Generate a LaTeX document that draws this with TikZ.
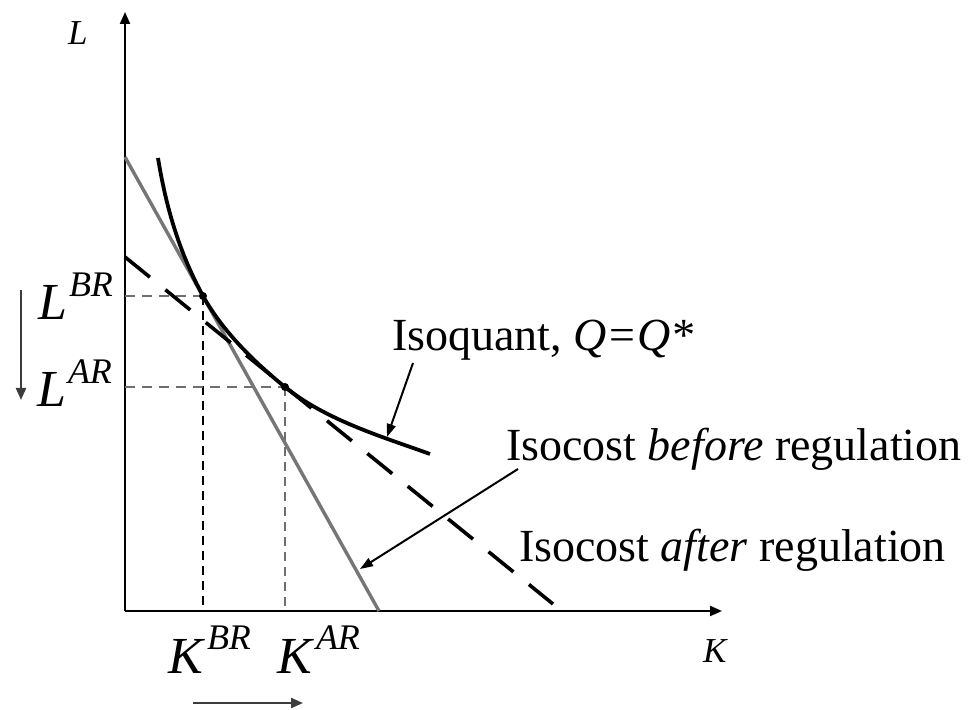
\documentclass[tikz,border=0pt]{standalone}
\usepackage{fontspec}
\setmainfont{Liberation Serif}
\usetikzlibrary{arrows.meta}
\definecolor{curvegray}{RGB}{118,118,118}
\definecolor{guidegray}{RGB}{110,110,110}
\definecolor{arrgray}{RGB}{60,60,60}
\newcommand{\suplab}[2]{\textit{#1}\kern0.04em\raisebox{0.46em}{\fontsize{18}{20}\selectfont\textit{#2}}}
\begin{document}
\begin{tikzpicture}[x=0.5pt,y=-0.5pt,
  axisline/.style={line width=1pt,-{Triangle[length=6pt,width=5pt]}},
  isoafter/.style={line width=1.7pt,curvegray},
  isobefore/.style={line width=1.8pt,black,dash pattern=on 16pt off 10pt},
  isoquant/.style={line width=1.9pt,black},
  hguide/.style={line width=1pt,guidegray,dash pattern=on 5pt off 3.5pt},
  vguide/.style={line width=1pt,black,dash pattern=on 4.5pt off 3pt},
  vguidegray/.style={line width=1pt,guidegray,dash pattern=on 4.5pt off 3pt},
  callout/.style={line width=1pt,black,-{Triangle[length=6.5pt,width=4.5pt]}},
  shiftarrow/.style={line width=1.1pt,arrgray,-{Triangle[length=6pt,width=5pt]}},
  txt/.style={inner sep=0pt,outer sep=0pt,anchor=base west,font=\fontsize{23}{27}\selectfont},
  biglab/.style={inner sep=0pt,outer sep=0pt,anchor=base west,font=\fontsize{26}{30}\selectfont},
  axlab/.style={inner sep=0pt,outer sep=0pt,anchor=base west,font=\fontsize{17.5}{20}\selectfont\itshape},
  dot/.style={circle,fill=black,inner sep=0pt,minimum size=4pt}
]
\useasboundingbox (0,0) rectangle (968,710);

% coordinates
\coordinate (O) at (125,611);
\coordinate (Ltop) at (125,12);
\coordinate (Kend) at (722,611);
\coordinate (A1) at (125,157);
\coordinate (A2) at (379,611);
\coordinate (B1) at (125,257);
\coordinate (B2) at (553,604);
\coordinate (Q0) at (158,158);
\coordinate (Q3) at (430,454);
\coordinate (T1) at (203,296);
\coordinate (T2) at (285,387);
\coordinate (LBRax) at (125,296);
\coordinate (LARax) at (125,387);
\coordinate (KBRax) at (203,611);
\coordinate (KARax) at (285,611);

% axes
\draw[axisline] (O) -- (Ltop);
\draw[axisline] (O) -- (Kend);

% guides
\draw[hguide] (LBRax) -- (T1);
\draw[vguide] (T1) -- (KBRax);
\draw[hguide] (LARax) -- (T2);
\draw[vguidegray] (T2) -- (KARax);

% isocost lines
\draw[isoafter] (A1) -- (A2);
\draw[isobefore] (B1) -- (B2);

% isoquant
\draw[isoquant] (Q0) .. controls (166,207) and (179,252) .. (T1)
  .. controls (222.5,331) and (254,362) .. (T2)
  .. controls (326,420) and (380,436) .. (Q3);

\node[dot] (d1) at (T1) {};
\node[dot] (d2) at (T2) {};

% axis labels
\node[axlab] (Llab) at (68,45) {L};
\node[axlab] (Klab) at (703,662) {K};

\node[biglab] (LBR) at (38,320) {\suplab{L}{BR}};
\node[biglab] (LAR) at (37,407) {\suplab{L}{AR}};
\node[biglab] (KBR) at (168,673) {\suplab{K}{BR}};
\node[biglab] (KAR) at (277,673) {\suplab{K}{AR}};

% shift arrows
\coordinate (s1a) at (21,290);
\coordinate (s1b) at (21,400);
\coordinate (s2a) at (193,703);
\coordinate (s2b) at (303,703);
\draw[shiftarrow] (s1a) -- (s1b);
\draw[shiftarrow] (s2a) -- (s2b);

% text labels
\node[txt] (isoq) at (392,351) {Isoquant, \textit{Q=Q*}};
\node[txt] (before) at (506,461) {Isocost \textit{before} regulation};
\node[txt] (after) at (519,561) {Isocost \textit{after} regulation};

% callouts
\coordinate (c1a) at (413,363);
\coordinate (c1b) at (387,437);
\coordinate (c2a) at (518,469);
\coordinate (c2b) at (360,569);
\draw[callout] (c1a) -- (c1b);
\draw[callout] (c2a) -- (c2b);
\end{tikzpicture}
\end{document}
